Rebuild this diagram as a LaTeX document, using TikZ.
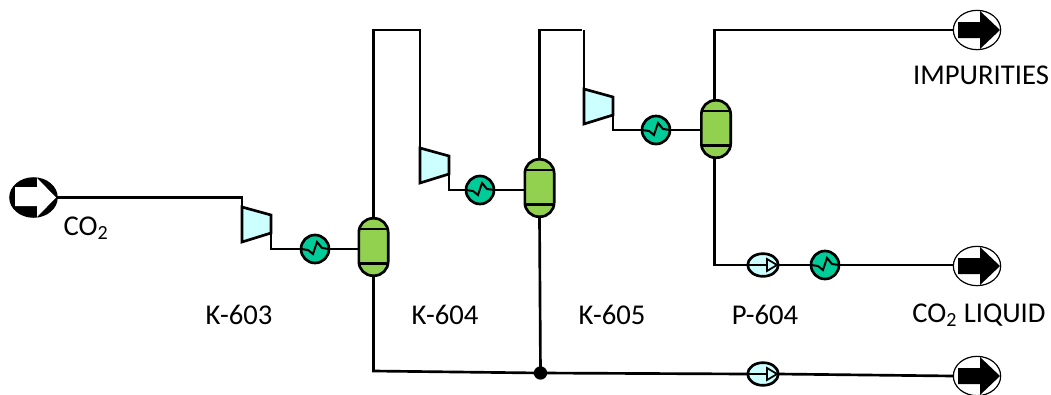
\documentclass[tikz,border=0pt]{standalone}
\usepackage{fontspec}
\setmainfont{Carlito}
\usetikzlibrary{shapes.geometric}
\definecolor{vesselc}{HTML}{92D050}
\definecolor{hxfill}{HTML}{00CC99}
\definecolor{cyanfill}{HTML}{CCFFFF}
\tikzset{
  pipe/.style={line width=2pt,line join=miter},
  vessel/.style={draw,line width=2pt,fill=vesselc,rounded corners=10.5pt,minimum width=22pt,minimum height=43pt,inner sep=0pt,outer sep=0pt},
  hxc/.style={circle,draw,line width=2pt,fill=hxfill,minimum size=21pt,inner sep=0pt,outer sep=0pt},
  pumpc/.style={ellipse,draw,line width=2pt,fill=cyanfill,minimum width=23pt,minimum height=17pt,inner sep=0pt,outer sep=0pt},
  term/.style={ellipse,draw,line width=0.9pt,fill=white,minimum width=35.5pt,minimum height=29.5pt,inner sep=0pt,outer sep=0pt},
  tag/.style={font=\fontsize{21.5pt}{25pt}\selectfont,inner sep=0pt},
  comp/.style={draw,line width=2pt,fill=cyanfill,line join=miter}
}
% #1 name, #2 x, #3 y
\newcommand{\vesselat}[3]{%
  \node[vessel] (#1) at (#2,#3) {};
  \draw[pipe] ([yshift=-8pt]#1.north west) -- ([yshift=-8pt]#1.north east);
  \draw[pipe] ([yshift=9pt]#1.south west) -- ([yshift=9pt]#1.south east);
}
\newcommand{\hxat}[3]{%
  \node[hxc] (#1) at (#2,#3) {};
  \draw[line width=1.5pt] (#1.west) -- ++(7,1) -- ++(5,4) -- ++(4,-12) -- ++(5,6) -- (#1.east);
}
\newcommand{\compat}[3]{%
  \coordinate (#1-in) at (#2,#3);
  \coordinate (#1-out) at ({#2+29},{#3+26});
  \draw[comp] (#2,#3) -- ({#2+29},{#3+8}) -- ({#2+29},{#3+26}) -- (#2,{#3+35}) -- cycle;
}
\newcommand{\pumpat}[3]{%
  \node[pumpc] (#1) at (#2,#3) {};
  \draw[line width=1.3pt,fill=cyanfill] ({#2+4},{#3-6}) -- ({#2+14},#3) -- ({#2+4},{#3+6}) -- cycle;
  \draw[line width=1.5pt] (#1.west) -- ({#2+4},#3);
}
\newcommand{\outat}[3]{%
  \node[term] (#1) at (#2,#3) {};
  \fill ({#2-19},{#3-8}) -- ({#2+3},{#3-8}) -- ({#2+3},{#3-19}) -- ({#2+23},#3) -- ({#2+3},{#3+19}) -- ({#2+3},{#3+8}) -- ({#2-19},{#3+8}) -- cycle;
}
\begin{document}
\begin{tikzpicture}[x=0.75pt,y=-0.75pt]
\useasboundingbox (0,0) rectangle (1051,394);
\clip (0,0) rectangle (1051,394);
% inlet terminal
\node[term,fill=black] (feed) at (33.5,197.5) {};
\fill[white] (15,187) -- (37,187) -- (37,178) -- (56,197.5) -- (37,217) -- (37,206) -- (15,206) -- cycle;
% equipment
\compat{c1}{242}{207}
\compat{c2}{420}{148}
\compat{c3}{584}{89}
\hxat{h1}{315}{249}
\hxat{h2}{480}{190}
\hxat{h3}{656}{130}
\hxat{h4}{825}{265}
\vesselat{v1}{373.5}{247}
\vesselat{v2}{539.5}{188}
\vesselat{v3}{716}{129}
\pumpat{p1}{763}{265}
\pumpat{p2}{763}{374}
\outat{t1}{977}{30}
\outat{t2}{977}{266}
\outat{t3}{977}{376}
\coordinate (top1) at (373.5,30);
\coordinate (top2a) at (582,30);
\coordinate (top2b) at (539.5,30);
\coordinate (top3) at (584,30);
\coordinate (bot1) at (373.5,371);
\coordinate (v3n) at (714.5,100);
\coordinate (v3s) at (714.5,158);
\node[circle,fill=black,minimum size=10pt,inner sep=0pt] (junc) at (540.5,373) {};
% connectors
\draw[pipe] (feed.east) -| (c1-in);
\draw[pipe] (c1-out) |- (h1.west);
\draw[pipe] (h1.east) -- (v1.west |- h1.east);
\draw[pipe] (v1.north) -- (top1) -| (c2-in);
\draw[pipe] (c2-out) |- (h2.west);
\draw[pipe] (h2.east) -- (v2.west |- h2.east);
\draw[pipe] (v2.north) -- (top2b) -- (top2a);
\draw[pipe] (top3) -- (c3-in);
\draw[pipe] (c3-out) |- (h3.west);
\draw[pipe] (h3.east) -- (v3.west |- h3.east);
\draw[pipe] (v3n) |- (t1.west);
\draw[pipe] (v3s) |- (p1.west);
\draw[pipe] (p1.east) -- (h4.west);
\draw[pipe] (h4.east) -- (t2.west |- h4.east);
\draw[pipe] (v1.south) -- (bot1) -- (junc.center);
\draw[pipe] (v2.south) -- (junc.center);
\draw[pipe] (junc.center) -- (p2.west);
\draw[pipe] (p2.east) -- (t3.west);
% labels
\node[tag] (lco) at (86,228) {CO\textsubscript{2}};
\node[tag] (lk3) at (239,315) {K-603};
\node[tag] (lk4) at (445,315) {K-604};
\node[tag] (lk5) at (612,315) {K-605};
\node[tag] (lp4) at (765,315) {P-604};
\node[tag] (lliq) at (979,315) {CO\textsubscript{2} LIQUID};
\node[tag] (limp) at (981,75) {IMPURITIES};
\end{tikzpicture}
\end{document}
